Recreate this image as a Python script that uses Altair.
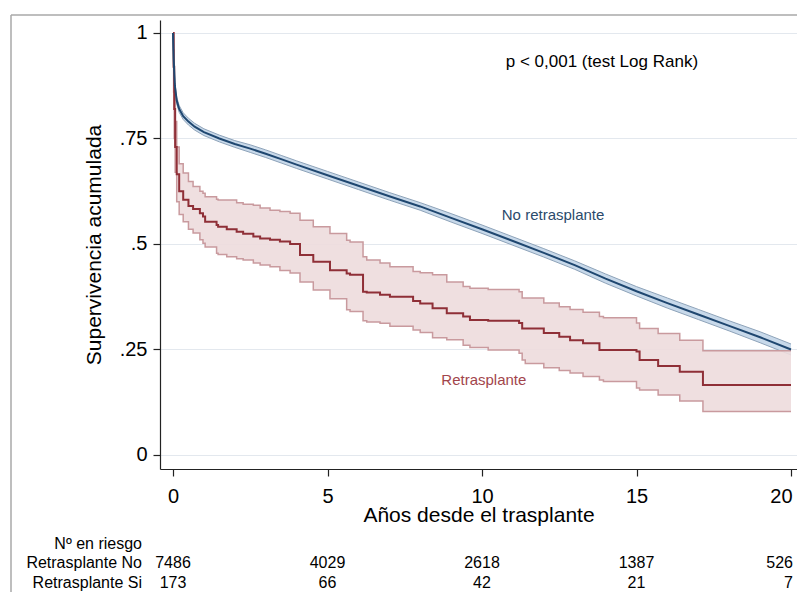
import altair as alt
import pandas as pd

# ---------------- data ----------------
# No retrasplante (Kaplan-Meier estimate and 95% CI)
blue_t = [0, 0.02, 0.06, 0.12, 0.2, 0.33, 0.5, 0.7, 1.0, 1.5, 2.0, 2.5, 3.0, 3.5, 4.0,
          5.0, 6.0, 7.0, 8.0, 9.0, 10.0, 11.0, 12.0, 13.0, 14.0, 15.0, 16.0, 17.0, 18.0, 19.0, 20.0]
blue_s = [1.0, 0.94, 0.875, 0.84, 0.82, 0.803, 0.79, 0.778, 0.765, 0.75, 0.737, 0.726, 0.714, 0.701, 0.688,
          0.663, 0.638, 0.613, 0.589, 0.562, 0.535, 0.507, 0.479, 0.45, 0.418, 0.388, 0.36, 0.333, 0.306, 0.279, 0.25]
blue_lo = [1.0, 0.935, 0.867, 0.832, 0.812, 0.795, 0.782, 0.77, 0.757, 0.742, 0.729, 0.717, 0.705, 0.692, 0.679,
           0.654, 0.629, 0.604, 0.58, 0.552, 0.525, 0.497, 0.469, 0.44, 0.407, 0.377, 0.348, 0.321, 0.294, 0.266, 0.237]
blue_hi = [1.0, 0.946, 0.883, 0.848, 0.828, 0.811, 0.798, 0.786, 0.773, 0.758, 0.745, 0.735, 0.723, 0.71, 0.697,
           0.672, 0.647, 0.622, 0.598, 0.572, 0.545, 0.517, 0.489, 0.46, 0.429, 0.399, 0.372, 0.345, 0.318, 0.292, 0.263]

# Retrasplante (step function and 95% CI)
red_t = [0, 0.02, 0.04, 0.07, 0.12, 0.2, 0.33, 0.5, 0.65, 0.87, 0.97, 1.04, 1.41, 1.46, 1.74, 2.06, 2.27,
         2.6, 2.82, 3.14, 3.46, 3.79, 4.11, 4.54, 5.08, 5.62, 5.73, 6.15, 6.27, 6.7, 7.02, 7.77, 8.0, 8.4,
         8.86, 9.39, 9.61, 10.2, 11.2, 11.3, 11.4, 12.0, 12.5, 12.85, 13.27, 13.8, 13.93, 15.0, 15.1, 15.7,
         16.4, 17.15, 20.0]
red_s = [1.0, 0.92, 0.82, 0.73, 0.665, 0.625, 0.605, 0.59, 0.583, 0.573, 0.565, 0.553, 0.545, 0.541, 0.535,
         0.529, 0.524, 0.518, 0.513, 0.51, 0.506, 0.5, 0.474, 0.458, 0.438, 0.43, 0.427, 0.387, 0.385, 0.38,
         0.375, 0.365, 0.359, 0.348, 0.336, 0.328, 0.32, 0.318, 0.313, 0.3, 0.3, 0.289, 0.28, 0.272, 0.265,
         0.249, 0.249, 0.245, 0.225, 0.211, 0.197, 0.166, 0.166]
red_hi = [1.0, 0.96, 0.88, 0.79, 0.73, 0.69, 0.668, 0.648, 0.636, 0.625, 0.62, 0.612, 0.606, 0.604, 0.604,
          0.598, 0.594, 0.592, 0.585, 0.58, 0.577, 0.573, 0.556, 0.541, 0.525, 0.509, 0.505, 0.47, 0.462, 0.455,
          0.446, 0.435, 0.432, 0.427, 0.41, 0.399, 0.395, 0.392, 0.387, 0.372, 0.372, 0.36, 0.351, 0.345, 0.338,
          0.328, 0.325, 0.313, 0.3, 0.288, 0.272, 0.247, 0.247]
red_lo = [1.0, 0.86, 0.75, 0.67, 0.6, 0.57, 0.553, 0.535, 0.526, 0.51, 0.502, 0.493, 0.478, 0.475, 0.47,
          0.465, 0.462, 0.455, 0.45, 0.446, 0.437, 0.431, 0.41, 0.391, 0.37, 0.344, 0.34, 0.318, 0.315, 0.312,
          0.305, 0.296, 0.29, 0.278, 0.273, 0.26, 0.255, 0.249, 0.241, 0.225, 0.217, 0.207, 0.2, 0.194, 0.186,
          0.178, 0.174, 0.159, 0.154, 0.142, 0.128, 0.103, 0.103]

# risk table
risk_times = [0, 5, 10, 15, 20]
risk_no = ["7486", "4029", "2618", "1387", "526"]
risk_si = ["173", "66", "42", "21", "7"]
risk_labels = ["Nº en riesgo", "Retrasplante No", "Retrasplante Si"]

# annotations
annot_text = ["p < 0,001 (test Log Rank)", "No retrasplante", "Retrasplante"]
annot_t = [13.88, 12.3, 10.06]
annot_v = [0.931, 0.569, 0.178]
annot_color = ["#000000", "#2b4a6b", "#a2454c"]
annot_size = [17, 15, 15]

FONT = "Liberation Sans"
NAVY = "#1f4770"
MAROON = "#8f2f37"

blue = pd.DataFrame({"t": blue_t, "s": blue_s, "lo": blue_lo, "hi": blue_hi})
red = pd.DataFrame({"t": red_t, "s": red_s, "lo": red_lo, "hi": red_hi})
risk = pd.DataFrame({"t": risk_times, "no": risk_no, "si": risk_si})
annot = pd.DataFrame({"text": annot_text, "t": annot_t, "v": annot_v,
                      "c": annot_color, "fs": annot_size})
labels = pd.DataFrame({"label": risk_labels, "row": [0, 1, 2]})

xscale = alt.Scale(domain=[-0.4207, 20.194], nice=False, zero=False)
yscale = alt.Scale(domain=[-0.0332, 1.0308], nice=False, zero=False)

xaxis = alt.Axis(values=risk_times, grid=False, tickSize=7, labelFontSize=20, labelPadding=10,
                 labelFlush=False, format="d",
                 labelAlign={"condition": {"test": "datum.value >= 20", "value": "right"}, "value": "center"},
                 labelOffset={"condition": {"test": "datum.value >= 20", "value": 1}, "value": 0},
                 title="Años desde el trasplante", titleFontSize=21,
                 titleFontWeight="normal", titleBaseline="alphabetic", titleY=52,
                 domainColor="#222222", tickColor="#222222", labelColor="#000000", titleColor="#000000",
                 labelFont=FONT, titleFont=FONT, domainWidth=1.2, tickWidth=1.2)
yaxis = alt.Axis(values=[0, 0.25, 0.5, 0.75, 1], grid=True, gridColor="#e3e8ee", gridWidth=1.2,
                 tickSize=7, labelPadding=6, labelFontSize=20,
                 labelExpr="datum.value == 1 ? '1' : datum.value == 0 ? '0' : replace(format(datum.value, '.2~f'), '0.', '.')",
                 title="Supervivencia acumulada", titleFontSize=21, titleFontWeight="normal",
                 titleBaseline="alphabetic", titleX=-60, titleAngle=-90,
                 domainColor="#222222", tickColor="#222222", labelColor="#000000", titleColor="#000000",
                 labelFont=FONT, titleFont=FONT, domainWidth=1.2, tickWidth=1.2)

X = alt.X("t:Q", scale=xscale, axis=xaxis)
Y = alt.Y("s:Q", scale=yscale, axis=yaxis)

blue_band = alt.Chart(blue).mark_area(color="#c8d9ea", opacity=1).encode(
    x=X, y=alt.Y("lo:Q", scale=yscale, axis=yaxis), y2="hi:Q")
blue_lo_line = alt.Chart(blue).mark_line(color="#8ea3b9", strokeWidth=1).encode(
    x=X, y=alt.Y("lo:Q", scale=yscale))
blue_hi_line = alt.Chart(blue).mark_line(color="#8ea3b9", strokeWidth=1).encode(
    x=X, y=alt.Y("hi:Q", scale=yscale))

red_band = alt.Chart(red).mark_area(color="#eddcdd", opacity=0.9, interpolate="step-after").encode(
    x=X, y=alt.Y("lo:Q", scale=yscale), y2="hi:Q")
red_lo_line = alt.Chart(red).mark_line(color="#c99a9e", strokeWidth=1.5, interpolate="step-after").encode(
    x=X, y=alt.Y("lo:Q", scale=yscale))
red_hi_line = alt.Chart(red).mark_line(color="#c99a9e", strokeWidth=1.5, interpolate="step-after").encode(
    x=X, y=alt.Y("hi:Q", scale=yscale))
red_line = alt.Chart(red).mark_line(color=MAROON, strokeWidth=2, interpolate="step-after").encode(
    x=X, y=Y)
blue_line = alt.Chart(blue).mark_line(color=NAVY, strokeWidth=2).encode(x=X, y=Y)

annots = alt.Chart(annot).mark_text(font=FONT, align="center", baseline="middle").encode(
    x=alt.X("t:Q", scale=xscale), y=alt.Y("v:Q", scale=yscale),
    text="text:N", color=alt.Color("c:N", scale=None), size=alt.Size("fs:Q", scale=None))

row_y = [524, 543, 563]
risk_lab_layers = [
    alt.Chart(labels).transform_filter(f"datum.row == {i}").mark_text(
        font=FONT, fontSize=16, align="right", baseline="middle", color="#000000").encode(
        x=alt.value(-18), y=alt.value(row_y[i]), text="label:N")
    for i in range(3)
]
num_align = {"expr": "datum.t >= 20 ? 'right' : 'center'"}
num_dx = {"expr": "datum.t >= 20 ? 2 : 0"}
risk_no_txt = alt.Chart(risk).mark_text(
    font=FONT, fontSize=16, align=num_align, dx=num_dx, baseline="middle", color="#000000").encode(
    x=alt.X("t:Q", scale=xscale), y=alt.value(row_y[1]), text="no:N")
risk_si_txt = alt.Chart(risk).mark_text(
    font=FONT, fontSize=16, align=num_align, dx=num_dx, baseline="middle", color="#000000").encode(
    x=alt.X("t:Q", scale=xscale), y=alt.value(row_y[2]), text="si:N")

frame_top = alt.Chart(alt.Data(values=[{}])).mark_rule(color="#a8a8a8", strokeWidth=1.5).encode(
    x=alt.value(-149), x2=alt.value(660), y=alt.value(-5))
frame_left = alt.Chart(alt.Data(values=[{}])).mark_rule(color="#a8a8a8", strokeWidth=1.5).encode(
    x=alt.value(-149), y=alt.value(-5), y2=alt.value(600))

chart = alt.layer(
    blue_band, blue_lo_line, blue_hi_line,
    red_band, red_lo_line, red_hi_line,
    red_line, blue_line, annots,
    *risk_lab_layers, risk_no_txt, risk_si_txt,
    frame_top, frame_left
).properties(
    width=637, height=449,
    autosize=alt.AutoSizeParams(type="none"),
    padding={"left": 152, "top": 12, "right": 0, "bottom": 123},
    background="white"
).configure_view(stroke=None)

chart.save("out.html", embed_options={"renderer": "svg", "actions": False})
